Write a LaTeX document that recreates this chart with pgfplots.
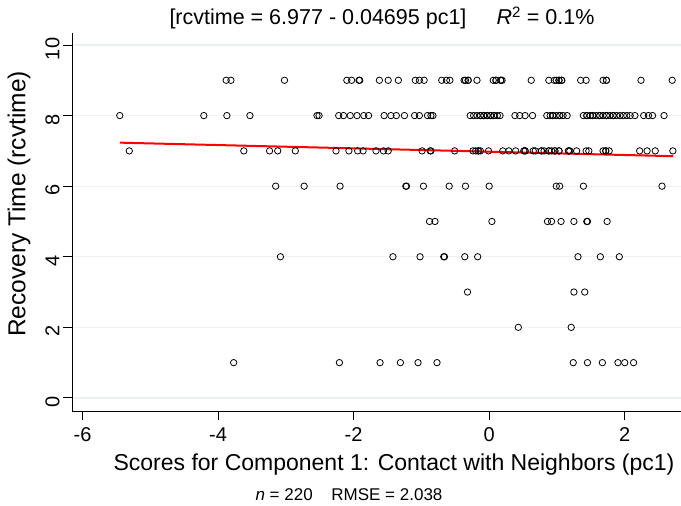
\documentclass[border=0pt]{standalone}
\usepackage{fontspec}
\setmainfont{Liberation Sans}
\usepackage{pgfplots}
\usepackage{pgfplotstable}
\pgfplotsset{compat=1.18}
\definecolor{gridc}{RGB}{234,242,243}

% Recovery time against component-1 scores
\pgfplotstableread{
x y
-3.77 1
-2.21 1
-1.61 1
-1.31 1
-1.05 1
-0.77 1
1.24 1
1.45 1
1.67 1
1.90 1
2.00 1
2.13 1
0.43 2
1.21 2
-0.32 3
1.25 3
1.41 3
-3.08 4
-1.42 4
-1.02 4
-0.67 4
-0.66 4
-0.36 4
-0.17 4
1.31 4
1.64 4
1.92 4
-0.88 5
-0.80 5
0.04 5
0.86 5
0.92 5
1.06 5
1.25 5
1.44 5
1.45 5
1.74 5
-3.15 6
-2.73 6
-2.20 6
-1.23 6
-1.22 6
-0.97 6
-0.59 6
-0.35 6
0.00 6
0.99 6
1.04 6
1.39 6
2.55 6
-5.31 7
-3.62 7
-3.24 7
-3.12 7
-2.86 7
-2.26 7
-2.07 7
-1.94 7
-1.86 7
-1.67 7
-1.56 7
-1.49 7
-0.99 7
-0.87 7
-0.86 7
-0.51 7
-0.24 7
-0.20 7
-0.16 7
-0.16 7
-0.13 7
-0.01 7
0.20 7
0.29 7
0.39 7
0.51 7
0.53 7
0.53 7
0.65 7
0.68 7
0.77 7
0.77 7
0.81 7
0.88 7
0.88 7
0.92 7
0.97 7
0.97 7
1.03 7
1.03 7
1.17 7
1.17 7
1.19 7
1.29 7
1.43 7
1.47 7
1.68 7
1.72 7
1.72 7
1.77 7
2.22 7
2.33 7
2.45 7
2.71 7
-5.45 8
-4.21 8
-3.87 8
-3.53 8
-2.54 8
-2.51 8
-2.22 8
-2.15 8
-2.05 8
-1.95 8
-1.85 8
-1.78 8
-1.55 8
-1.45 8
-1.37 8
-1.25 8
-1.10 8
-1.03 8
-0.91 8
-0.86 8
-0.83 8
-0.28 8
-0.23 8
-0.18 8
-0.13 8
-0.13 8
-0.08 8
-0.08 8
-0.03 8
-0.03 8
0.02 8
0.02 8
0.07 8
0.07 8
0.12 8
0.16 8
0.38 8
0.45 8
0.53 8
0.64 8
0.85 8
0.90 8
0.94 8
0.94 8
0.99 8
1.04 8
1.04 8
1.09 8
1.15 8
1.39 8
1.44 8
1.44 8
1.49 8
1.53 8
1.53 8
1.58 8
1.63 8
1.63 8
1.68 8
1.73 8
1.73 8
1.78 8
1.83 8
1.83 8
1.88 8
1.93 8
1.98 8
2.03 8
2.08 8
2.15 8
2.28 8
2.35 8
2.41 8
2.58 8
-3.88 9
-3.81 9
-3.02 9
-2.10 9
-2.03 9
-1.92 9
-1.91 9
-1.62 9
-1.49 9
-1.34 9
-1.09 9
-1.03 9
-0.96 9
-0.70 9
-0.63 9
-0.58 9
-0.37 9
-0.35 9
-0.31 9
-0.31 9
-0.18 9
0.06 9
0.10 9
0.10 9
0.17 9
0.17 9
0.19 9
0.62 9
0.88 9
0.96 9
0.99 9
1.03 9
1.03 9
1.07 9
1.07 9
1.35 9
1.43 9
1.68 9
1.73 9
1.73 9
2.24 9
2.70 9
}\rcvdata

\begin{document}
\begin{tikzpicture}
\useasboundingbox (-72pt,-95pt) rectangle (609pt,411pt);
\begin{axis}[
  at={(0pt,0pt)}, anchor=south west,
  scale only axis, width=609pt, height=378pt,
  xmin=-6.155, xmax=2.83, ymin=-0.37, ymax=10.34,
  axis x line*=bottom, axis y line*=left,
  axis line style={-, line width=0.9pt, black},
  xtick={-6,-4,-2,0,2}, ytick={0,2,4,6,8,10},
  tick align=outside, major tick length=9pt,
  tick style={line width=0.9pt, black},
  ymajorgrids, grid style={line width=1.3pt, gridc},
  ticklabel style={font=\fontsize{20}{24}\selectfont},
  /pgf/number format/assume math mode=true,
  xticklabel style={yshift=-4pt},
  yticklabel style={rotate=90, anchor=south, xshift=-4pt},
  clip=false,
]
\addplot[only marks, mark=o, mark size=3.2pt,
  mark options={line width=0.8pt, draw=black}] table[x=x, y=y] {\rcvdata};
\addplot[red, line width=2pt] coordinates {(-5.45,7.2329) (2.71,6.8498)};
\end{axis}
\node at (310pt,393pt) {\fontsize{21.5}{26}\selectfont [rcvtime = 6.977 - 0.04695 pc1]\hspace{1.4em}\textit{R}\textsuperscript{2} = 0.1\%};
\node at (322pt,-54pt) {\fontsize{23}{27}\selectfont Scores for Component 1: Contact with Neighbors (pc1)};
\node[rotate=90] at (-53pt,207pt) {\fontsize{24.5}{28}\selectfont Recovery Time (rcvtime)};
\node at (277pt,-84pt) {\fontsize{17}{20}\selectfont\textit{n} = 220\hspace{1.1em}RMSE = 2.038};
\end{tikzpicture}
\end{document}
